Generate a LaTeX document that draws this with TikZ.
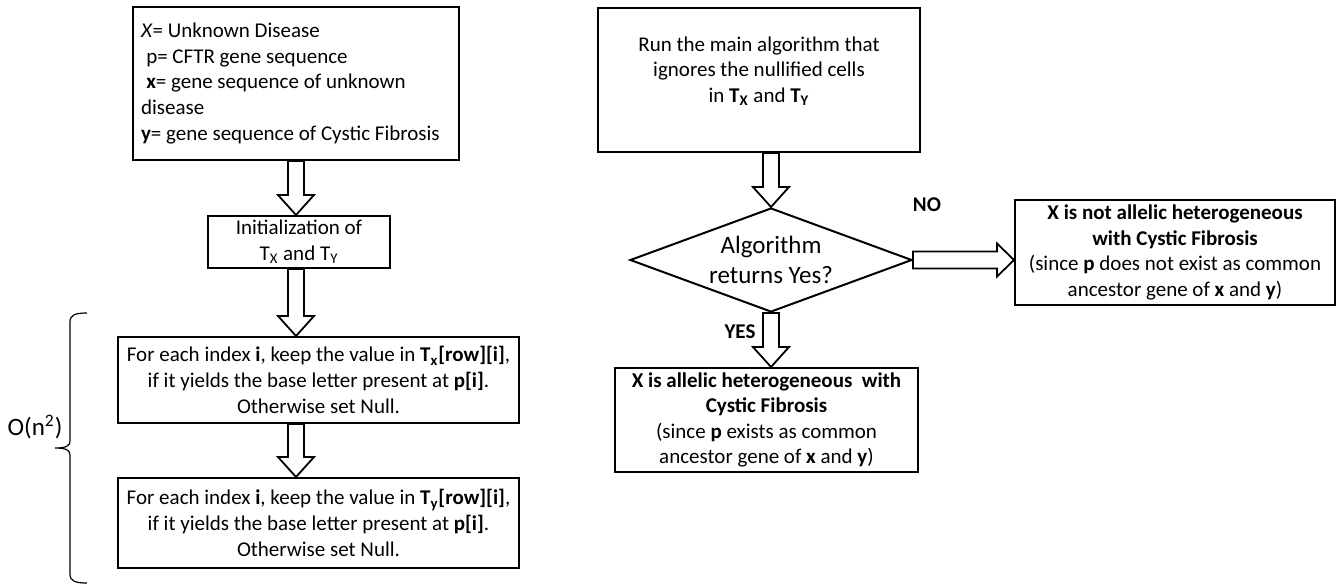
\documentclass[tikz,border=0pt]{standalone}
\usepackage{fontspec}
\setmainfont{Carlito}
\usetikzlibrary{shapes.geometric,calc}

\tikzset{
  box/.style={draw, line width=1pt, inner sep=0pt, align=center,
    font=\fontsize{10.5}{12.8}\selectfont},
  decision/.style={draw, diamond, line width=1pt, inner sep=0pt, aspect=2.7,
    align=center, font=\fontsize{12.5}{15}\selectfont},
  tag/.style={font=\fontsize{10.5}{12.8}\selectfont\bfseries, inner sep=0pt},
  blockdown/.style={draw, line width=0.9pt, fill=white,
    to path={let \p1=(\tikztostart), \p2=(\tikztotarget) in
      (\x1-4pt,\y1) -- (\x1-4pt,\y2+10pt) -- (\x1-9pt,\y2+10pt) -- (\x1,\y2)
      -- (\x1+9pt,\y2+10pt) -- (\x1+4pt,\y2+10pt) -- (\x1+4pt,\y1) -- cycle}},
  blockright/.style={draw, line width=0.9pt, fill=white,
    to path={let \p1=(\tikztostart), \p2=(\tikztotarget) in
      (\x1,\y1+4.25pt) -- (\x2-8.5pt,\y1+4.25pt) -- (\x2-8.5pt,\y1+8.25pt) -- (\x2,\y1)
      -- (\x2-8.5pt,\y1-8.25pt) -- (\x2-8.5pt,\y1-4.25pt) -- (\x1,\y1-4.25pt) -- cycle}},
}

\begin{document}
\begin{tikzpicture}[x=0.5pt,y=-0.5pt]
\useasboundingbox (0,0) rectangle (1342,585);

% left column
\node[box, minimum width=163pt, minimum height=76.5pt, text width=155pt, align=flush left] (defs) at (296,83.5)
  {\textit{X}= Unknown Disease\\
   \hspace{0.25em}p= CFTR gene sequence\\
   \hspace{0.25em}\textbf{x}= gene sequence of unknown\\
   disease\\
   \textbf{y}= gene sequence of Cystic Fibrosis};

\node[box, minimum width=91pt, minimum height=26pt] (init) at (299,242)
  {Initialization of\\ T\textsubscript{X} and T\textsubscript{Y}};

\node[box, minimum width=200.5pt, minimum height=43pt] (filtx) at (318.5,380)
  {For each index \textbf{i}, keep the value in \textbf{T\textsubscript{x}[row][i]},\\
   if it yields the base letter present at \textbf{p[i]}.\\
   Otherwise set Null.};

\node[box, minimum width=200.5pt, minimum height=45pt] (filty) at (318.5,523)
  {For each index \textbf{i}, keep the value in \textbf{T\textsubscript{y}[row][i]},\\
   if it yields the base letter present at \textbf{p[i]}.\\
   Otherwise set Null.};

\draw[blockdown] (defs.south) to (init.north -| defs.south);
\draw[blockdown] (init.south -| defs.south) to (filtx.north -| defs.south);
\draw[blockdown] (filtx.south -| defs.south) to (filty.north -| defs.south);

% complexity brace
\draw[line width=0.6pt] (87,313) .. controls (75,313) and (70,315) .. (70,322)
  -- (70,441) .. controls (70,446) and (66,448) .. (55,448)
  .. controls (66,448) and (70,450) .. (70,455)
  -- (70,574) .. controls (70,581) and (75,583) .. (87,583);
\node[font=\fontsize{12.5}{15}\selectfont, inner sep=0pt] (cost) at (35,427) {O(n\textsuperscript{2})};

% right column
\node[box, minimum width=161pt, minimum height=72pt] (run) at (759,80) {};
\node[box, draw=none] (runtext) at (759,71)
  {Run the main algorithm that\\
   ignores the nullified cells\\
   in \textbf{T\textsubscript{X}} and \textbf{T\textsubscript{Y}}};

\node[decision, minimum width=141pt, minimum height=52pt] (dec) at (771,260)
  {Algorithm\\ returns Yes?};

\node[box, minimum width=151.5pt, minimum height=52pt] (yes) at (766.5,420)
  {\textbf{X is allelic heterogeneous\ \ with}\\
   \textbf{Cystic Fibrosis}\\
   (since \textbf{p} exists as common\\
   ancestor gene of \textbf{x} and \textbf{y})};

\node[box, minimum width=160pt, minimum height=52.5pt] (no) at (1175,252.5)
  {\textbf{X is not allelic heterogeneous}\\
   \textbf{with Cystic Fibrosis}\\
   (since \textbf{p} does not exist as common\\
   ancestor gene of \textbf{x} and \textbf{y})};

\draw[blockdown] (run.south -| dec.north) to (dec.north);
\draw[blockdown] (dec.south) to (yes.north -| dec.south);
\draw[blockright] (dec.east) to (no.west |- dec.east);

\node[tag] (nolabel) at (927,205) {NO};
\node[tag] (yeslabel) at (740,332) {YES};
\end{tikzpicture}
\end{document}
